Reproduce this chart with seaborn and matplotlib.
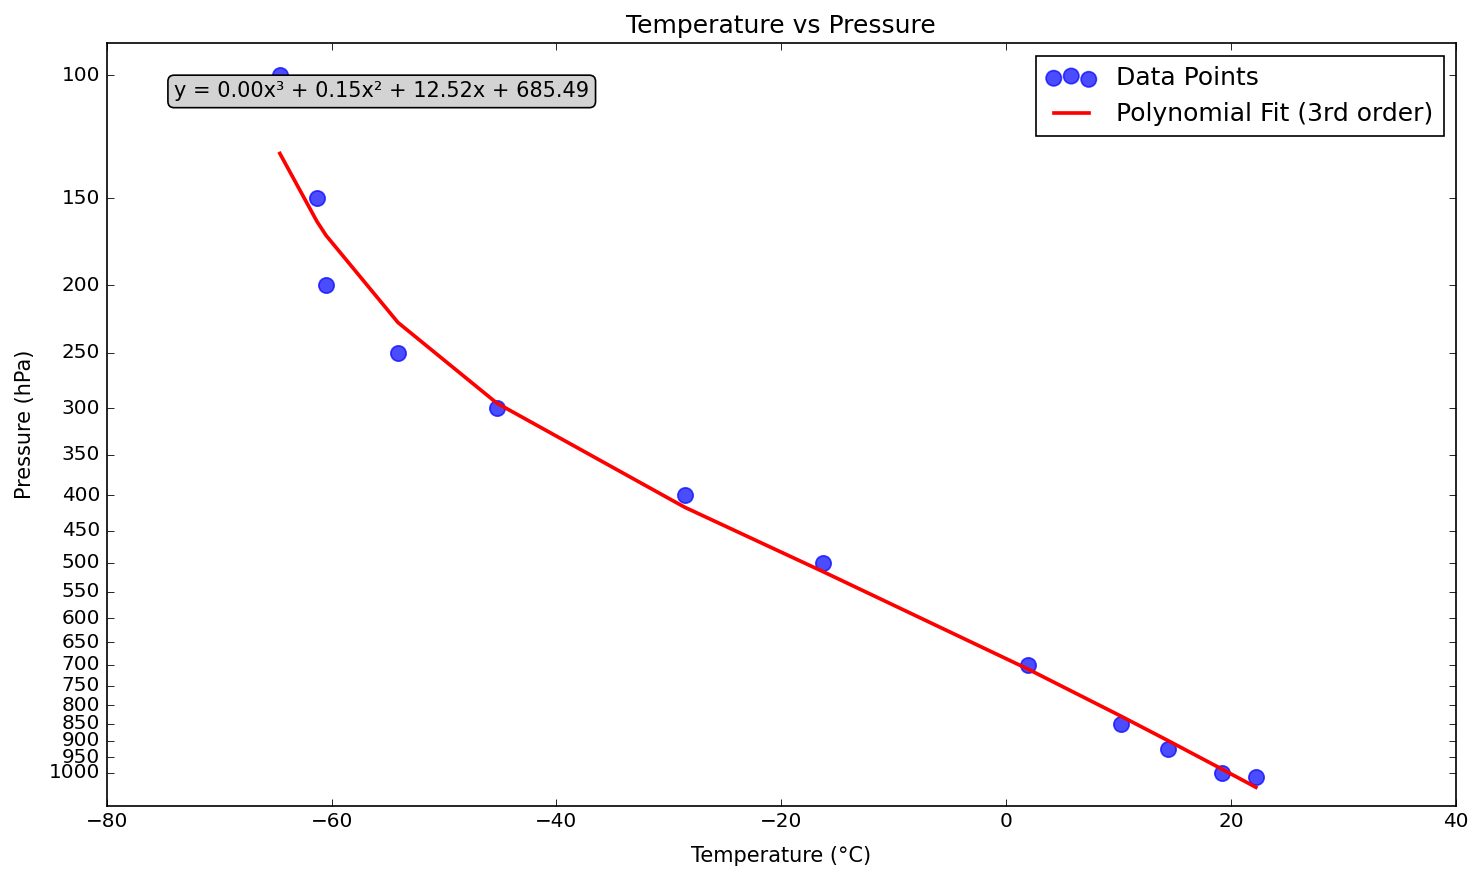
import numpy as np
import matplotlib
matplotlib.use("Agg")
import matplotlib.pyplot as plt
import matplotlib.ticker as mticker
import seaborn as sns

# sounding values
temperature = [-64.6, -61.3, -60.5, -54.1, -45.3, -28.6, -16.3, 1.9, 10.2, 14.4, 19.2, 22.2]
pressure = [100, 150, 200, 250, 300, 400, 500, 700, 850, 925, 1000, 1013.25]
pressure_ticks = list(range(100, 1001, 50))
equation_text = "y = 0.00x³ + 0.15x² + 12.52x + 685.49"

plt.style.use("classic")
fig = plt.figure(figsize=(1484 / 120, 880 / 120), dpi=120)
ax = fig.add_axes([106.7 / 1484, 1 - 805.7 / 880, 1349.3 / 1484, (805.7 - 43.3) / 880])

# 3rd order fit of pressure against temperature
coefs = np.polyfit(temperature, pressure, 3)
fit = np.polyval(coefs, temperature)

sns.scatterplot(x=temperature, y=pressure, ax=ax, color="blue", alpha=0.7,
                s=85, edgecolor="blue", linewidth=1, label="Data Points", legend=False)
sns.lineplot(x=temperature, y=fit, ax=ax, color="red", linewidth=2.2, sort=False,
             estimator=None, label="Polynomial Fit (3rd order)", legend=False)

ax.set_yscale("log")
ax.set_ylim(max(pressure) * 1.1, min(pressure) * 0.9)
ax.yaxis.set_major_locator(mticker.FixedLocator(pressure_ticks))
ax.yaxis.set_major_formatter(mticker.FixedFormatter([str(t) for t in pressure_ticks]))
ax.yaxis.set_minor_locator(mticker.NullLocator())
ax.set_xlim(-80, 40)

ax.set_xlabel("Temperature (°C)", fontsize=12.5, labelpad=9)
ax.set_ylabel("Pressure (hPa)", fontsize=12.5, labelpad=8)
ax.set_title("Temperature vs Pressure", fontsize=15, pad=6)

ax.text(0.05, 0.95, equation_text, transform=ax.transAxes, fontsize=12.5,
        verticalalignment="top", zorder=5,
        bbox=dict(boxstyle="round", facecolor="lightgray", edgecolor="black"))

ax.legend(loc="upper right", fontsize=15)

fig.savefig("out.png", dpi=120)
